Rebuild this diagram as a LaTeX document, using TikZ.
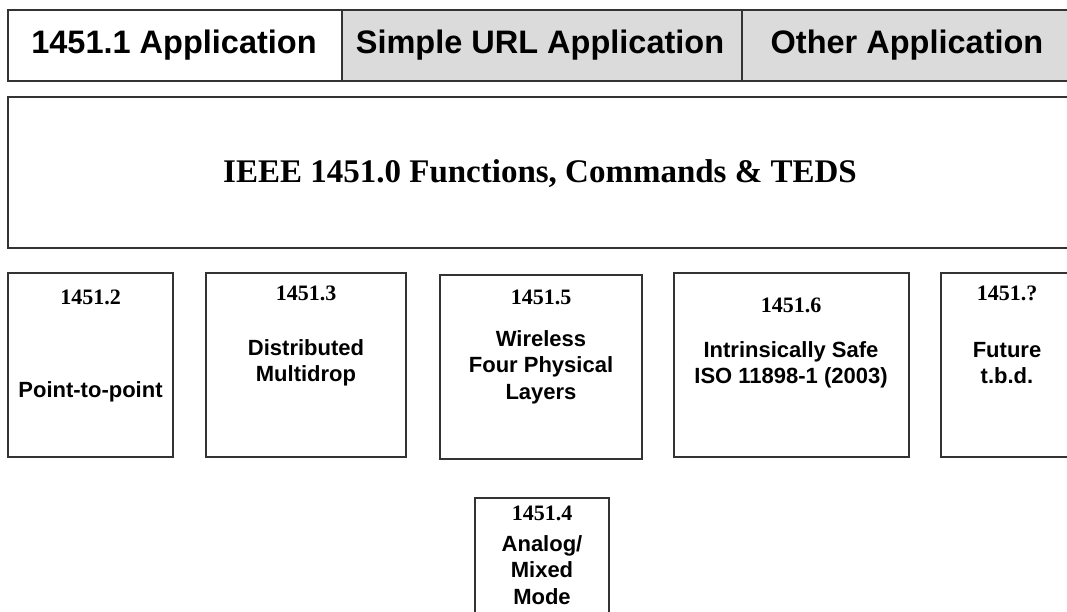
\documentclass[tikz,border=0pt]{standalone}
\usepackage{fontspec}
\setmainfont{Liberation Serif}
\setsansfont{Liberation Sans}
\begin{document}
\begin{tikzpicture}[x=1pt,y=-1pt,
  box/.style={draw=black!80,line width=2pt,inner sep=0pt,outer sep=0pt},
  graybox/.style={box,fill=black!14},
  apptext/.style={font=\sffamily\bfseries\fontsize{32.5}{38}\selectfont,inner sep=0pt},
  ieeetext/.style={font=\rmfamily\bfseries\fontsize{33}{38}\selectfont,inner sep=0pt},
  numtext/.style={font=\rmfamily\bfseries\fontsize{22}{26}\selectfont,inner sep=0pt},
  desctext/.style={font=\sffamily\bfseries\fontsize{22}{26.5}\selectfont,inner sep=0pt,align=center}]
\useasboundingbox (0,0) rectangle (1067,611);
\clip (0,0) rectangle (1067,611);
% top application bar
\node[box,fill=white,minimum width=334pt,minimum height=71pt] (app1) at (175,45.5) {};
\node[graybox,minimum width=400pt,minimum height=71pt] (app2) at (542,45.5) {};
\node[graybox,minimum width=340pt,minimum height=71pt] (app3) at (912,45.5) {};
\node[apptext] (t1) at (174,45) {1451.1 Application};
\node[apptext] (t2) at (540,45) {Simple URL Application};
\node[apptext] (t3) at (907,45) {Other Application};
% IEEE box
\node[box,minimum width=1072pt,minimum height=151pt] (ieee) at (544,172.5) {};
\node[ieeetext] (ieeet) at (540,174) {IEEE 1451.0 Functions, Commands \& TEDS};
% lower boxes
\node[box,minimum width=165pt,minimum height=184pt] (b2) at (90.5,365) {};
\node[box,minimum width=200pt,minimum height=184pt] (b3) at (306,365) {};
\node[box,minimum width=202pt,minimum height=184pt] (b5) at (541,367) {};
\node[box,minimum width=235pt,minimum height=184pt] (b6) at (791.5,365) {};
\node[box,minimum width=132pt,minimum height=184pt] (b7) at (1007,365) {};
\node[box,minimum width=134pt,minimum height=140pt] (b4) at (542,568) {};
% labels
\node[numtext] (n2) at (90.5,297) {1451.2};
\node[desctext] (d2) at (90.5,392) {Point-to-point};
\node[numtext] (n3) at (306,293) {1451.3};
\node[desctext] (d3) at (306,363) {Distributed\\Multidrop};
\node[numtext] (n5) at (541,297) {1451.5};
\node[desctext] (d5) at (541,367) {Wireless\\Four Physical\\Layers};
\node[numtext] (n6) at (791,305) {1451.6};
\node[desctext] (d6) at (791,365) {Intrinsically Safe\\ISO 11898-1 (2003)};
\node[numtext] (n7) at (1007,293) {1451.?};
\node[desctext] (d7) at (1007,363) {Future\\t.b.d.};
\node[numtext] (n4) at (542,513) {1451.4};
\node[desctext] (d4) at (542,570) {Analog/\\Mixed\\Mode};
\end{tikzpicture}
\end{document}
